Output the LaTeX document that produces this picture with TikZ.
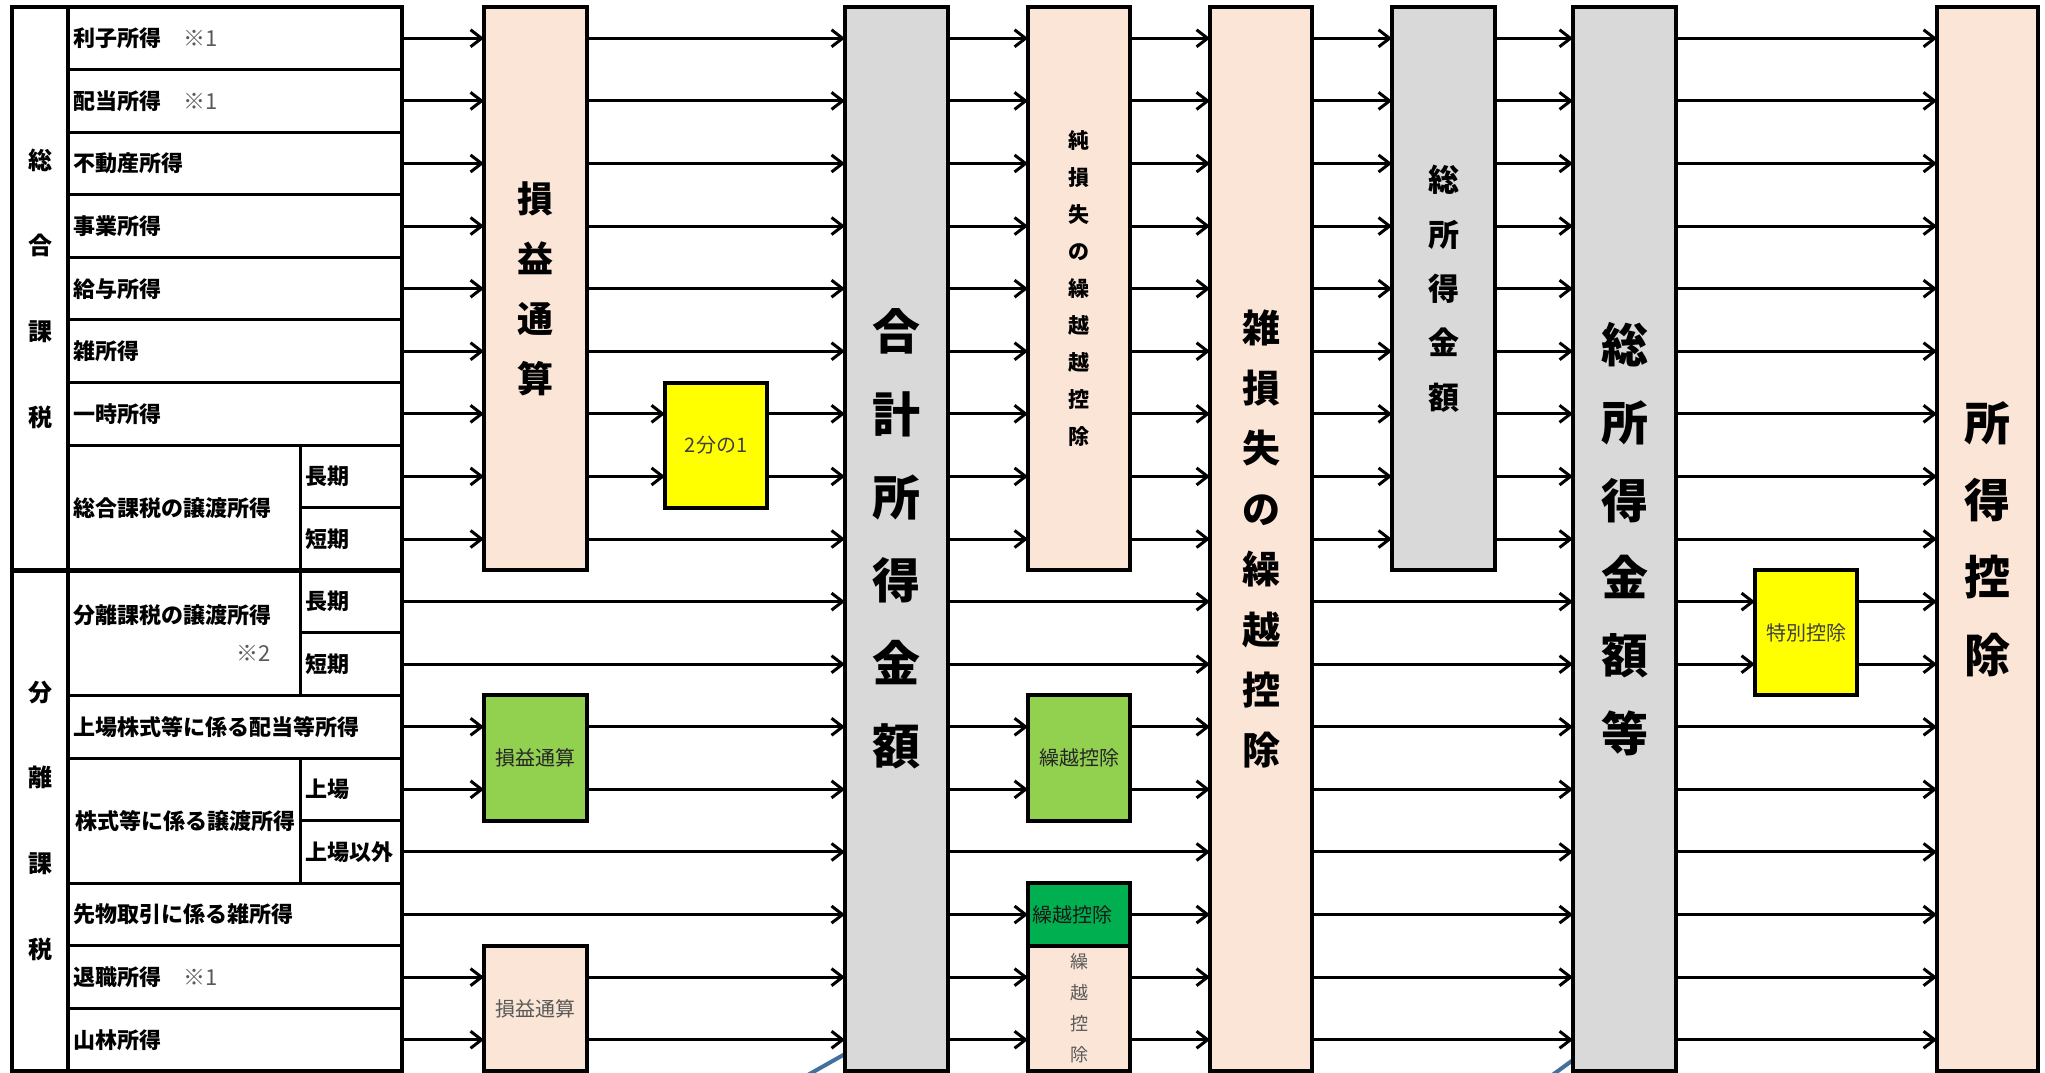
\documentclass[tikz,border=0pt]{standalone}
\usepackage{fontspec}
\setmainfont{Noto Sans CJK JP}
\usetikzlibrary{arrows.meta}
\definecolor{peach}{HTML}{FBE5D6}
\definecolor{boxgray}{HTML}{D9D9D9}
\definecolor{lgreen}{HTML}{92D050}
\definecolor{dgreen}{HTML}{00B050}
\definecolor{yel}{HTML}{FFFF00}
\definecolor{markgray}{HTML}{595959}
\definecolor{linkblue}{HTML}{41719C}
\pgfdeclarelayer{bg}
\pgfsetlayers{bg,main}
\newcommand\flows[3]{\foreach \k in {#3}{\draw[flow] (#1.east |- r\k) -- (#2.west |- r\k);}}
\newcommand\mk[1]{{\mdseries\color{markgray}#1}}
\begin{document}
\begin{tikzpicture}[x=1pt,y=-1pt,
  box/.style={draw, line width=4pt, inner sep=0pt, outer sep=0pt, anchor=north west, align=center},
  flow/.style={line width=3pt, -{Straight Barb[length=11pt,width=17pt]}},
  tline/.style={line width=3pt},
  tthick/.style={line width=4.5pt},
  lbl/.style={anchor=west, inner sep=0pt, font=\fontsize{22}{26}\selectfont\bfseries},
  small/.style={font=\fontsize{20}{24}\selectfont}
]
\useasboundingbox (0,0) rectangle (2045,1073);
\foreach \k in {0,...,16} \coordinate (r\k) at (0,{7+62.59*(\k+0.5)});

% blue lines from below
\coordinate (b1s) at (806,1076);
\coordinate (b1e) at (845,1054);
\coordinate (b2s) at (1551,1076);
\coordinate (b2e) at (1573,1060);

% table
\node[draw, line width=4.5pt, minimum width=390, minimum height=1064.03, anchor=north west, inner sep=0pt, outer sep=0pt] (tbl) at (12,7) {};
\draw[tthick] (68,7) -- (68,1071.03);
\draw[tthick] (12,570.31) -- (402,570.31);
\foreach \y in {69.59,132.18,194.77,257.36,319.95,382.54,445.13,695.49,758.08,883.26,945.85,1008.44}
  \draw[tline] (68,\y) -- (402,\y);
\foreach \y in {507.72,632.9,820.67} \draw[tline] (300,\y) -- (402,\y);
\draw[tline] (300,445.13) -- (300,695.49);
\draw[tline] (300,758.08) -- (300,883.26);

\node[font=\fontsize{24}{85.6}\selectfont\bfseries, align=center, inner sep=0pt] (sogo) at (40,288.5) {総\\合\\課\\税};
\node[font=\fontsize{24}{85.6}\selectfont\bfseries, align=center, inner sep=0pt] (bunri) at (40,820.7) {分\\離\\課\\税};

\node[lbl] (l0) at (73,38.30) {利子所得　\mk{※1}};
\node[lbl] (l1) at (73,100.89) {配当所得　\mk{※1}};
\node[lbl] (l2) at (73,163.48) {不動産所得};
\node[lbl] (l3) at (73,226.07) {事業所得};
\node[lbl] (l4) at (73,288.66) {給与所得};
\node[lbl] (l5) at (73,351.25) {雑所得};
\node[lbl] (l6) at (73,413.84) {一時所得};
\node[lbl] (l7) at (73,507.72) {総合課税の譲渡所得};
\node[lbl] (s7) at (305,476.43) {長期};
\node[lbl] (s8) at (305,539.02) {短期};
\node[lbl, align=right, font=\fontsize{22}{38}\selectfont\bfseries] (l9) at (73,632.9) {分離課税の譲渡所得\\\mk{※2}};
\node[lbl] (s9) at (305,601.61) {長期};
\node[lbl] (s10) at (305,664.2) {短期};
\node[lbl] (l11) at (73,726.79) {上場株式等に係る配当等所得};
\node[lbl] (l12) at (75,820.67) {株式等に係る譲渡所得};
\node[lbl] (s12) at (305,789.38) {上場};
\node[lbl] (s13) at (305,851.97) {上場以外};
\node[lbl] (l14) at (73,914.56) {先物取引に係る雑所得};
\node[lbl] (l15) at (73,977.15) {退職所得　\mk{※1}};
\node[lbl] (l16) at (73,1039.74) {山林所得};

% boxes
\node[box, fill=peach, minimum width=103, minimum height=563.31, font=\fontsize{36}{60}\selectfont\bfseries] (se1) at (484,7) {損\\益\\通\\算};
\node[box, fill=yel, minimum width=102, minimum height=125.18, small, text=black!75] (half) at (665,382.54) {2分の1};
\node[box, fill=boxgray, minimum width=103, minimum height=1064.03, font=\fontsize{48}{83}\selectfont\bfseries] (gokei) at (845,7) {合\\計\\所\\得\\金\\額};
\node[box, fill=peach, minimum width=102, minimum height=563.31, font=\fontsize{21}{37}\selectfont\bfseries] (jun) at (1028,7) {純\\損\\失\\の\\繰\\越\\越\\控\\除};
\node[box, fill=peach, minimum width=102, minimum height=1064.03, font=\fontsize{38}{60.4}\selectfont\bfseries] (zatsu) at (1210,7) {雑\\損\\失\\の\\繰\\越\\控\\除};
\node[box, fill=boxgray, minimum width=103, minimum height=563.31, font=\fontsize{31}{54.4}\selectfont\bfseries] (sou) at (1392,7) {総\\所\\得\\金\\額};
\node[box, fill=boxgray, minimum width=103, minimum height=1064.03, font=\fontsize{47}{77.8}\selectfont\bfseries] (soutou) at (1573,7) {総\\所\\得\\金\\額\\等};
\node[box, fill=yel, minimum width=102, minimum height=125.18, small, text=black!75] (toku) at (1755,570.31) {特別控除};
\node[box, fill=peach, minimum width=101, minimum height=1064.03, font=\fontsize{46}{77.3}\selectfont\bfseries] (kojo) at (1937,7) {所\\得\\控\\除};
\node[box, fill=lgreen, minimum width=103, minimum height=125.18, small, text=black!85] (se2) at (484,695.49) {損益通算};
\node[box, fill=peach, minimum width=103, minimum height=125.18, small, text=markgray] (se3) at (484,945.85) {損益通算};
\node[box, fill=lgreen, minimum width=102, minimum height=125.18, small, text=black!85] (kuri1) at (1028,695.49) {繰越控除};
\node[box, fill=peach, minimum width=102, minimum height=125.18, font=\fontsize{18}{31}\selectfont, text=markgray] (kuri3) at (1028,945.85) {繰\\越\\控\\除};
\node[box, fill=dgreen, minimum width=102, minimum height=62.59, small, text=black!90] (kuri2) at (1028,883.26) {繰越控除\hspace*{14pt}};

\begin{pgfonlayer}{bg}
\draw[linkblue, line width=4pt] (b1s) -- (gokei.west |- b1e);
\draw[linkblue, line width=4pt] (b2s) -- (soutou.west |- b2e);
\end{pgfonlayer}

% connectors
\flows{tbl}{se1}{0,...,8}
\flows{tbl}{gokei}{9,10,13,14}
\flows{tbl}{se2}{11,12}
\flows{tbl}{se3}{15,16}
\flows{se1}{gokei}{0,...,5,8}
\flows{se1}{half}{6,7}
\flows{half}{gokei}{6,7}
\flows{se2}{gokei}{11,12}
\flows{se3}{gokei}{15,16}
\flows{gokei}{jun}{0,...,8}
\flows{gokei}{zatsu}{9,10,13}
\flows{gokei}{kuri1}{11,12}
\flows{gokei}{kuri2}{14}
\flows{gokei}{kuri3}{15,16}
\flows{jun}{zatsu}{0,...,8}
\flows{kuri1}{zatsu}{11,12}
\flows{kuri2}{zatsu}{14}
\flows{kuri3}{zatsu}{15,16}
\flows{zatsu}{sou}{0,...,8}
\flows{zatsu}{soutou}{9,...,16}
\flows{sou}{soutou}{0,...,8}
\flows{soutou}{kojo}{0,...,8,11,12,13,14,15,16}
\flows{soutou}{toku}{9,10}
\flows{toku}{kojo}{9,10}
\end{tikzpicture}
\end{document}
